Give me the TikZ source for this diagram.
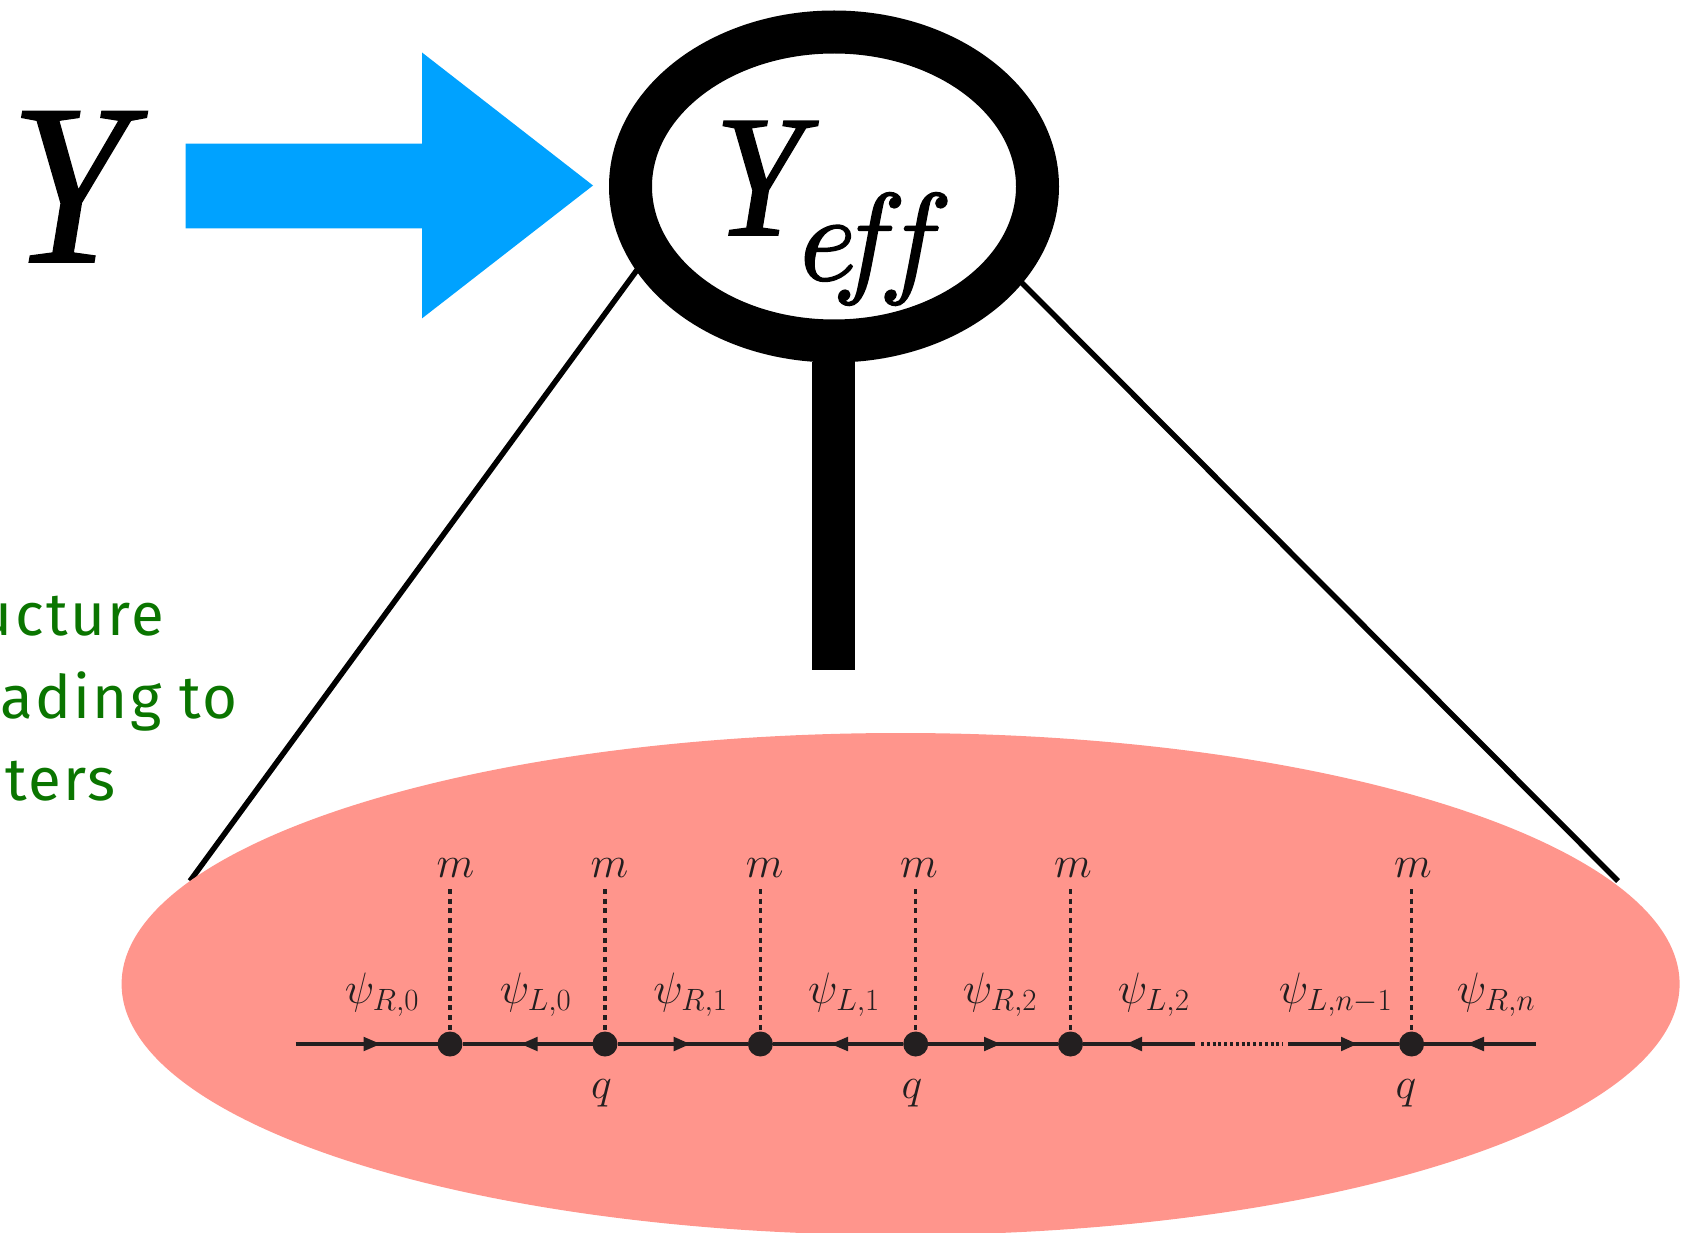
\RequirePackage{fix-cm}
\documentclass[tikz,border=0pt]{standalone}
\usepackage{fontspec}
\usetikzlibrary{shapes.geometric}
\setmainfont{Liberation Serif}
\newfontfamily\greenfont[LetterSpace=4]{Fira Sans}
\DeclareMathSizes{44}{44}{30.8}{22}
\DeclareMathSizes{124}{124}{87}{62}
\newcommand{\heavytext}[2]{\special{pdf:code 2 Tr #1 w}#2\special{pdf:code 0 Tr 1 w}}
\definecolor{salmon}{HTML}{FF958C}
\definecolor{arrowblue}{HTML}{00A2FF}
\definecolor{txtgreen}{HTML}{0A7500}
\definecolor{ink}{HTML}{231F20}
\tikzset{
  x=1pt,y=-1pt,
  every node/.style={inner sep=0pt,outer sep=0pt,text=ink},
  wire/.style={draw=ink,line width=3.4pt},
  vdots/.style={draw=ink,line width=3.4pt,dash pattern=on 5pt off 4.7pt},
  hdots/.style={draw=ink,line width=3.4pt,dash pattern=on 3pt off 2.8pt},
  vertexdot/.style={circle,fill=ink,minimum size=25pt},
  head/.style={fill=ink,draw=none},
  chainlab/.style={font=\fontsize{44}{44}\selectfont,anchor=base},
  greenlab/.style={font=\greenfont\fontsize{60}{60}\selectfont,text=txtgreen,anchor=base east},
  ray/.style={draw=black,line width=5.5pt}
}
\begin{document}
\begin{tikzpicture}
\useasboundingbox (0,0) rectangle (1681,1233);
\clip (0,0) rectangle (1681,1233);
% rays
\coordinate (rayLa) at (637,270); \coordinate (rayLb) at (190,881);
\coordinate (rayRa) at (1021,282); \coordinate (rayRb) at (1618,881);
\draw[ray] (rayLa) -- (rayLb);
% lens blob
\node[ellipse,fill=salmon,minimum width=1558pt,minimum height=502pt] (blob) at (900.6,984) {};
\draw[ray] (rayRa) -- (rayRb);
% magnifier
\draw[line width=43pt,black] (834,186.5) ellipse [x radius=203.5,y radius=154.5];
\fill[black] (812.2,362) rectangle (855,670);
% blue arrow
\fill[arrowblue] (185.5,143.7) -- (422,143.7) -- (422,52.5) -- (593,185.5) -- (422,318.4) -- (422,228.4) -- (185.5,228.4) -- cycle;
% big labels
\node[font=\fontsize{230}{230}\selectfont\itshape,text=black,anchor=base,xscale=.93,transform shape] (Yout) at (69,262) {\heavytext{1.5}{Y}};
\node[font=\fontsize{174}{174}\selectfont\itshape,text=black,anchor=base,xscale=.93,transform shape] (Yin) at (759,235) {\heavytext{1.5}{Y}};
\node[font=\fontsize{124}{124}\selectfont,text=black,anchor=base west] (eff) at (800,280) {\heavytext{2}{$e\kern-.19em f\kern-.215em f$}};
% green text
\node[greenlab] (g1) at (164,635) {ucture};
\node[greenlab] (g2) at (238,718) {eading to};
\node[greenlab] (g3) at (116,800) {ters};
% chain
\node[vertexdot] (v0) at (450,1044) {};
\node[vertexdot] (v1) at (605,1044) {};
\node[vertexdot] (v2) at (760.4,1044) {};
\node[vertexdot] (v3) at (915.7,1044) {};
\node[vertexdot] (v4) at (1070.5,1044) {};
\node[vertexdot] (v5) at (1411.6,1044) {};
\coordinate (start) at (295.6,1044);
\coordinate (gapa) at (1194.6,1044);
\coordinate (dota) at (1201,1044);
\coordinate (dotb) at (1282.6,1044);
\coordinate (gapb) at (1288,1044);
\coordinate (stop) at (1535.7,1044);
\draw[wire] (start) -- (v0) -- (v1) -- (v2) -- (v3) -- (v4) -- (gapa);
\draw[wire] (gapb) -- (v5) -- (stop);
\draw[hdots] (dota) -- (dotb);
\foreach \vx/\nm in {450/v0,605/v1,760.4/v2,915.7/v3,1070.5/v4,1411.6/v5}{
  \coordinate (t\nm) at (\vx,889);
  \draw[vdots] (t\nm) -- (\nm.north);
}
% arrowheads
\foreach \b/\t in {363.5/380.4,673.7/690,984/1000.4,1341/1357,537.6/521,848/831,1142/1126,1484/1467}{
  \fill[head] (\b,1036.7) -- (\t,1044) -- (\b,1051.3) -- cycle;
}
% labels
\foreach \x in {455.4,609.5,764.8,919,1073,1413}{ \node[chainlab] at (\x,877) {$m$}; }
\foreach \x in {601.5,912,1406}{ \node[chainlab] at (\x,1098.4) {$q$}; }
\node[chainlab] (p0) at (382,1003.7) {$\psi_{R,0}$};
\node[chainlab] (p1) at (535.6,1003.7) {$\psi_{L,0}$};
\node[chainlab] (p2) at (690.5,1003.7) {$\psi_{R,1}$};
\node[chainlab] (p3) at (844,1003.7) {$\psi_{L,1}$};
\node[chainlab] (p4) at (1000,1003.7) {$\psi_{R,2}$};
\node[chainlab] (p5) at (1153.6,1003.7) {$\psi_{L,2}$};
\node[chainlab] (p6) at (1335.5,1003.7) {$\psi_{L,n-1}$};
\node[chainlab] (p7) at (1496,1003.7) {$\psi_{R,n}$};
\end{tikzpicture}
\end{document}
